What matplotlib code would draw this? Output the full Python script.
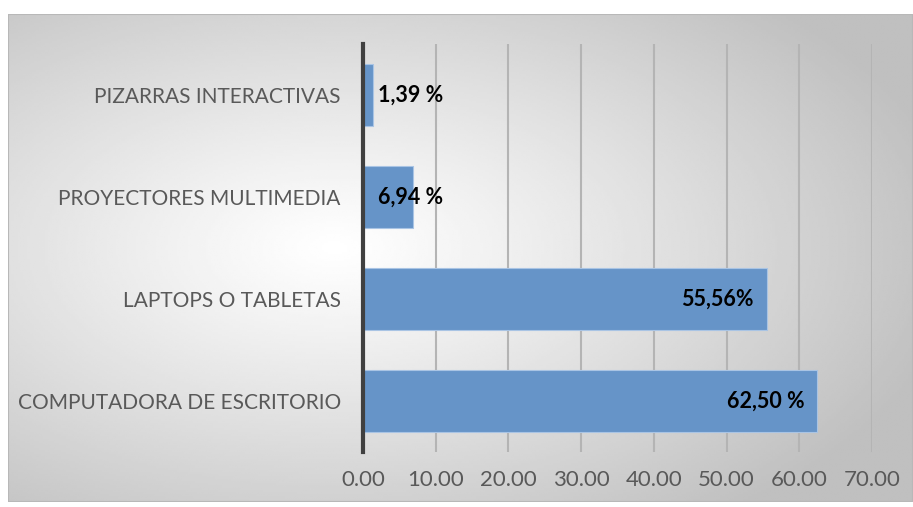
import numpy as np
import matplotlib.pyplot as plt
from matplotlib.patches import Rectangle

categories = ["COMPUTADORA DE ESCRITORIO", "LAPTOPS O TABLETAS",
              "PROYECTORES MULTIMEDIA", "PIZARRAS INTERACTIVAS"]
values = [62.50, 55.56, 6.94, 1.39]
value_labels = ["62,50 %", "55,56%", "6,94 %", "1,39 %"]
xticks = [0, 10, 20, 30, 40, 50, 60, 70]

plt.rcParams["font.family"] = ["Lato", "DejaVu Sans"]

W, H = 913, 507
fig = plt.figure(figsize=(W / 100, H / 100), dpi=100)

# chart area with radial grey gradient
x0, y0, x1, y1 = 8, 14, 913, 502
bg = fig.add_axes([x0 / W, 1 - y1 / H, (x1 - x0) / W, (y1 - y0) / H])
gx, gy = np.meshgrid(np.linspace(0, 1, 400), np.linspace(0, 1, 220))
d = np.sqrt(((gx - 0.36) / 0.7) ** 2 + ((gy - 0.48) / 0.7) ** 2)
shade = 1 - 0.25 * np.clip(d, 0, 1) ** 1.1
bg.imshow(shade, cmap="gray", vmin=0, vmax=1, aspect="auto",
          extent=[0, 1, 0, 1], interpolation="bilinear")
bg.add_patch(Rectangle((0, 0), 1, 1, fill=False, ec="#b8b8b8", lw=1.5,
                       transform=bg.transAxes))
bg.set_axis_off()

# plot area
px0, py0, px1, py1 = 363, 44, 872, 452
ax = fig.add_axes([px0 / W, 1 - py1 / H, (px1 - px0) / W, (py1 - py0) / H])
ax.patch.set_alpha(0)

y = np.arange(len(categories))
ax.barh(y, values, height=0.6, color="#6694c8", edgecolor="#a9c4e4",
        linewidth=0.8, zorder=2)
for yi, v, lab in zip(y, values, value_labels):
    if v > 20:
        ax.text(v - 1.8, yi, lab, ha="right", va="center", fontsize=15.5,
                fontweight="bold", color="black", zorder=3)
    else:
        ax.text(2.0, yi, lab, ha="left", va="center", fontsize=15.5,
                fontweight="bold", color="black", zorder=3)

ax.set_xlim(0, 70)
ax.set_ylim(-0.5, len(categories) - 0.5)
ax.set_xticks(xticks)
ax.set_xticklabels([f"{t:.2f}" for t in xticks])
ax.set_yticks(y)
ax.set_yticklabels(categories)
ax.tick_params(axis="both", length=0, labelsize=15, colors="#595959")
ax.tick_params(axis="x", labelsize=16, pad=13)
ax.tick_params(axis="y", pad=16)
ax.grid(axis="x", color="#b4b4b4", lw=1.5, zorder=1)
for s in ["top", "right", "bottom"]:
    ax.spines[s].set_visible(False)
ax.spines["left"].set_color("#404040")
ax.spines["left"].set_linewidth(3)
ax.spines["left"].set_zorder(4)

fig.savefig("out.png", dpi=100)
